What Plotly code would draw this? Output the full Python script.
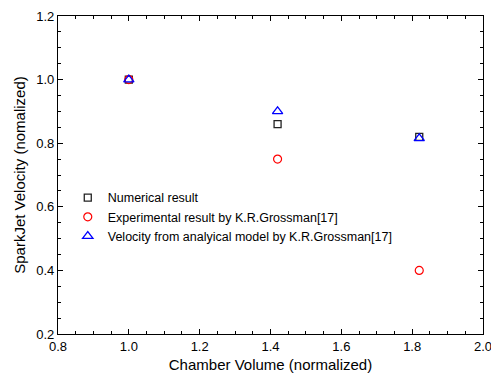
import plotly.graph_objects as go

x_vals = [1.0, 1.42, 1.82]
numerical = [1.0, 0.86, 0.82]
experimental = [1.0, 0.75, 0.40]
analytical = [1.0, 0.90, 0.815]

names = ["Numerical result",
         "Experimental result by K.R.Grossman[17]",
         "Velocity from analyical model by K.R.Grossman[17]"]

FONT = "Liberation Sans, Arial"

fig = go.Figure()
fig.add_trace(go.Scatter(x=x_vals, y=numerical, mode="markers", name=names[0],
                         marker=dict(symbol="square-open", size=7, color="#222", line=dict(width=1.3))))
fig.add_trace(go.Scatter(x=x_vals, y=experimental, mode="markers", name=names[1],
                         marker=dict(symbol="circle-open", size=8, color="red", line=dict(width=1.2))))
fig.add_trace(go.Scatter(x=x_vals, y=analytical, mode="markers", name=names[2],
                         marker=dict(symbol="triangle-up-open", size=9, color="blue", line=dict(width=1.3))))

axis_common = dict(showline=True, linecolor="black", linewidth=1.3, mirror="allticks",
                   ticks="inside", ticklen=5, tickwidth=1, tickcolor="black",
                   showgrid=False, zeroline=False, automargin=False,
                   ticklabeloverflow="allow",
                   tickfont=dict(family=FONT, size=13, color="black"),
                   minor=dict(ticks="inside", ticklen=3, tickcolor="black"))

fig.update_xaxes(range=[0.8, 2.0], dtick=0.2, tickformat=".1f",
                 title=dict(text="Chamber Volume (normalized)", font=dict(family=FONT, size=15, color="black"), standoff=6),
                 **axis_common)
fig.update_yaxes(range=[0.2, 1.2], dtick=0.2, tickformat=".1f",
                 title=dict(text="SparkJet Velocity (nomalized)", font=dict(family=FONT, size=15, color="black"), standoff=6),
                 **axis_common)

fig.update_layout(width=491, height=376, margin=dict(l=58, r=8, t=16, b=42),
                  plot_bgcolor="white", paper_bgcolor="white",
                  legend=dict(x=0.023, y=0.475, xanchor="left", yanchor="top",
                              bgcolor="rgba(0,0,0,0)", tracegroupgap=0,
                              font=dict(family=FONT, size=12.5, color="black")),
                  showlegend=True)

fig.write_html("out.html", config={"displayModeBar": False},
               post_script="document.body.style.margin='0';document.body.style.overflow='hidden';")
